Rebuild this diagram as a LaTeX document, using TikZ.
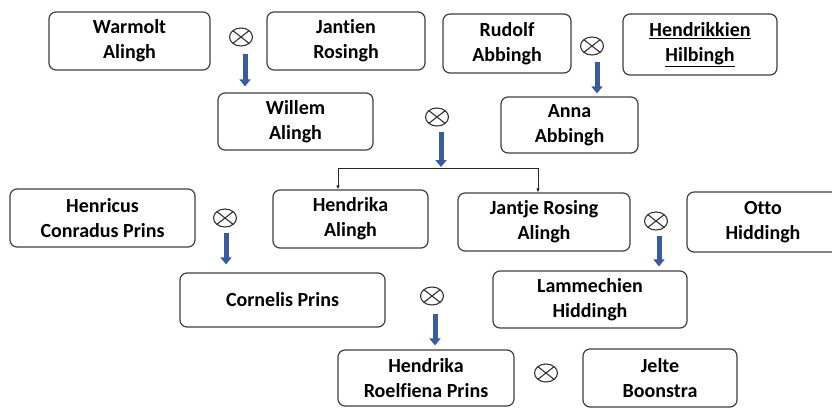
\documentclass[tikz,border=0pt]{standalone}
\usepackage{fontspec}
\setmainfont{Carlito}[Ligatures=NoCommon]
\usetikzlibrary{shapes.geometric,arrows.meta,calc}
\definecolor{boxline}{RGB}{64,64,64}
\definecolor{arrowblue}{RGB}{58,92,158}
\tikzset{
  person/.style={draw=boxline, line width=1.2pt, rounded corners=7pt, align=center,
    font=\fontsize{20}{25}\selectfont\bfseries, inner sep=0pt},
  otimes/.style={draw=black!80, line width=1.1pt, ellipse, minimum width=23pt, minimum height=18pt,
    inner sep=0pt, path picture={\draw[black!80, line width=1.1pt]
      (path picture bounding box.north west)--(path picture bounding box.south east)
      (path picture bounding box.north east)--(path picture bounding box.south west);}},
  fatarrow/.style={draw=arrowblue, line width=5pt, -{Triangle[length=7pt,width=11pt]}},
  treeline/.style={draw=black!85, line width=1pt},
  treearrow/.style={treeline, -{Latex[length=4pt,width=3.5pt]}}
}
\begin{document}
\begin{tikzpicture}[x=1pt,y=-1pt]
\useasboundingbox[fill=white] (0,0) rectangle (832,408);
% people
\node[person, minimum width=161pt, minimum height=58pt] (warmolt) at (129.5,41) {Warmolt\\Alingh};
\node[person, minimum width=158pt, minimum height=58pt] (jantien) at (346,41) {Jantien\\Rosingh};
\node[person, minimum width=128pt, minimum height=59pt] (rudolf) at (507,43.5) {Rudolf\\Abbingh};
\node[person, minimum width=154pt, minimum height=61pt] (hendrikkien) at (700,44.5) {\underline{Hendrikkien}\\\underline{Hilbingh}};
\node[person, minimum width=155pt, minimum height=57pt] (willem) at (295.5,121.5) {Willem\\Alingh};
\node[person, minimum width=137pt, minimum height=56pt] (anna) at (569.5,125) {Anna\\Abbingh};
\node[person, minimum width=185pt, minimum height=58pt] (henricus) at (102.5,218) {Henricus\\Conradus Prins};
\node[person, minimum width=155pt, minimum height=58pt] (hendrika) at (350.5,219) {Hendrika\\Alingh};
\node[person, minimum width=172pt, minimum height=58pt] (jantje) at (544,222) {Jantje Rosing\\Alingh};
\node[person, minimum width=152pt, minimum height=60pt] (otto) at (763,222) {Otto\\Hiddingh};
\node[person, minimum width=205pt, minimum height=54pt] (cornelis) at (282.5,300) {Cornelis Prins};
\node[person, minimum width=194pt, minimum height=57pt] (lammechien) at (590,299.5) {Lammechien\\Hiddingh};
\node[person, minimum width=176pt, minimum height=56pt] (roelfiena) at (426,378) {Hendrika\\Roelfiena Prins};
\node[person, minimum width=154pt, minimum height=58pt] (jelte) at (660,378) {Jelte\\Boonstra};
% marriage symbols
\node[otimes] (o1) at (241,37) {};
\node[otimes] (o2) at (592,46) {};
\node[otimes] (o3) at (437,117) {};
\node[otimes] (o4) at (225,218) {};
\node[otimes] (o5) at (656,221) {};
\node[otimes] (o6) at (432,296) {};
\node[otimes] (o7) at (546,373) {};
% descent arrows
\draw[fatarrow] ($(o1.south)+(4,7)$) -- ($(o1.south |- willem.north)+(4,-6)$);
\draw[fatarrow] ($(o2.south)+(5,6)$) -- ($(o2.south |- anna.north)+(5,-3)$);
\draw[fatarrow] ($(o4.south)+(1,5)$) -- ($(o4.south |- cornelis.north)+(1,-8)$);
\draw[fatarrow] ($(o5.south)+(3,5)$) -- ($(o5.south |- lammechien.north)+(3,-4)$);
\draw[fatarrow] ($(o6.south)+(3,8)$) -- ($(o6.south |- roelfiena.north)+(3,-4)$);
\coordinate (junction) at (441,168);
\draw[fatarrow] ($(o3.south)+(4,5)$) -- ($(junction)+(0,-1)$);
\draw[treearrow] (junction) -| (hendrika.north -| 338,0);
\draw[treearrow] (junction) -| (jantje.north -| 538,0);
\end{tikzpicture}
\end{document}
